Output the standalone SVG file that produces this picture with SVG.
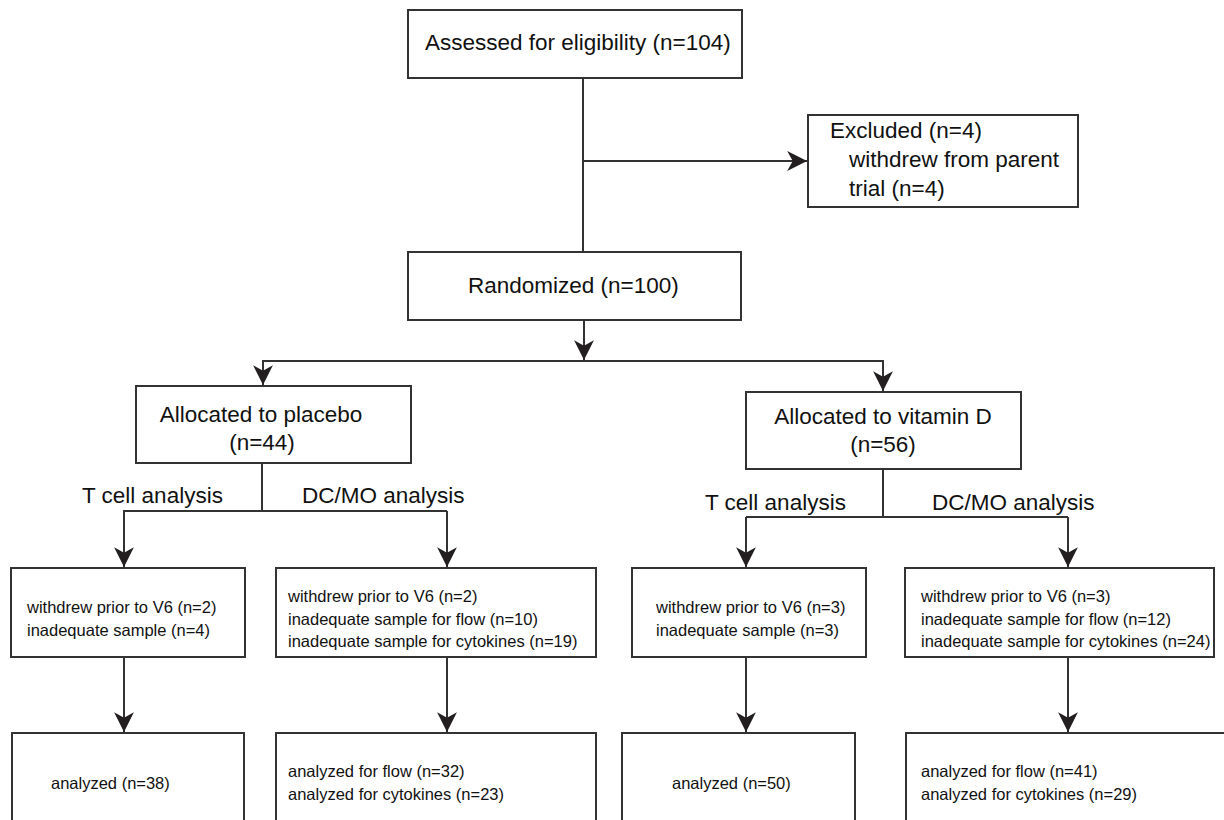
<svg xmlns="http://www.w3.org/2000/svg" width="1224" height="820" viewBox="0 0 1224 820">
<style>
.box{fill:#fff;stroke:#333;stroke-width:2}
.ln{fill:none;stroke:#333;stroke-width:2}
.big{font-family:"Liberation Sans",Arial,sans-serif;font-size:22.5px;fill:#111}
.sm{font-family:"Liberation Sans",Arial,sans-serif;font-size:16.5px;fill:#111}
.mid{text-anchor:middle}
</style>
<defs>
<marker id="arr" markerUnits="userSpaceOnUse" markerWidth="22" markerHeight="22" viewBox="-19 -10 20 20" refX="0" refY="0" orient="auto">
<path d="M0,0 L-18,-9 L-13,0 L-18,9 Z" fill="#231f20"/>
</marker>
</defs>
<rect width="1224" height="820" fill="#fff"/>
<g id="connectors">
<line class="ln" x1="583" y1="78" x2="583" y2="252"/>
<line class="ln" x1="583" y1="161" x2="807" y2="161" marker-end="url(#arr)"/>
<line class="ln" x1="584" y1="320" x2="584" y2="360" marker-end="url(#arr)"/>
<line class="ln" x1="262" y1="361" x2="884" y2="361"/>
<line class="ln" x1="263" y1="361" x2="263" y2="385" marker-end="url(#arr)"/>
<line class="ln" x1="883" y1="361" x2="883" y2="391" marker-end="url(#arr)"/>
<line class="ln" x1="262" y1="463" x2="262" y2="511"/>
<line class="ln" x1="123" y1="511" x2="447" y2="511"/>
<line class="ln" x1="124" y1="511" x2="124" y2="567" marker-end="url(#arr)"/>
<line class="ln" x1="447" y1="511" x2="447" y2="567" marker-end="url(#arr)"/>
<line class="ln" x1="883" y1="469" x2="883" y2="517"/>
<line class="ln" x1="746" y1="517" x2="1068" y2="517"/>
<line class="ln" x1="746" y1="517" x2="746" y2="567" marker-end="url(#arr)"/>
<line class="ln" x1="1068" y1="517" x2="1068" y2="567" marker-end="url(#arr)"/>
<line class="ln" x1="124" y1="657" x2="124" y2="732" marker-end="url(#arr)"/>
<line class="ln" x1="447" y1="657" x2="447" y2="732" marker-end="url(#arr)"/>
<line class="ln" x1="746" y1="657" x2="746" y2="732" marker-end="url(#arr)"/>
<line class="ln" x1="1068" y1="657" x2="1068" y2="732" marker-end="url(#arr)"/>
</g>
<g id="assessed">
<rect class="box" x="408" y="10" width="334" height="68"/>
<text class="big" x="425" y="50">Assessed for eligibility (n=104)</text>
</g>
<g id="excluded">
<rect class="box" x="808" y="115" width="270" height="92"/>
<text class="big" x="830" y="138">Excluded (n=4)</text>
<text class="big" x="849" y="167">withdrew from parent</text>
<text class="big" x="849" y="196">trial (n=4)</text>
</g>
<g id="randomized">
<rect class="box" x="408" y="252" width="333" height="68"/>
<text class="big" x="468" y="293">Randomized (n=100)</text>
</g>
<g id="placebo">
<rect class="box" x="136" y="386" width="275" height="77"/>
<text class="big mid" x="261" y="422">Allocated to placebo</text>
<text class="big mid" x="262" y="450">(n=44)</text>
</g>
<g id="vitamin">
<rect class="box" x="746" y="392" width="275" height="77"/>
<text class="big mid" x="883" y="424">Allocated to vitamin D</text>
<text class="big mid" x="883" y="452">(n=56)</text>
</g>
<g id="labels">
<text class="big" x="82" y="503">T cell analysis</text>
<text class="big" x="302" y="503">DC/MO analysis</text>
<text class="big" x="705" y="510">T cell analysis</text>
<text class="big" x="932" y="510">DC/MO analysis</text>
</g>
<g id="placebo-t-withdrawn">
<rect class="box" x="11" y="568" width="234" height="89"/>
<text class="sm" x="27" y="613">withdrew prior to V6 (n=2)</text>
<text class="sm" x="27" y="636">inadequate sample (n=4)</text>
</g>
<g id="placebo-dc-withdrawn">
<rect class="box" x="276" y="568" width="320" height="89"/>
<text class="sm" x="288" y="602">withdrew prior to V6 (n=2)</text>
<text class="sm" x="288" y="625">inadequate sample for flow (n=10)</text>
<text class="sm" x="288" y="647">inadequate sample for cytokines (n=19)</text>
</g>
<g id="vitd-t-withdrawn">
<rect class="box" x="632" y="568" width="234" height="89"/>
<text class="sm" x="656" y="613">withdrew prior to V6 (n=3)</text>
<text class="sm" x="656" y="636">inadequate sample (n=3)</text>
</g>
<g id="vitd-dc-withdrawn">
<rect class="box" x="905" y="568" width="309" height="89"/>
<text class="sm" x="921" y="602">withdrew prior to V6 (n=3)</text>
<text class="sm" x="921" y="625">inadequate sample for flow (n=12)</text>
<text class="sm" x="921" y="647">inadequate sample for cytokines (n=24)</text>
</g>
<g id="placebo-t-analyzed">
<rect class="box" x="12" y="733" width="232" height="120"/>
<text class="sm" x="51" y="789">analyzed (n=38)</text>
</g>
<g id="placebo-dc-analyzed">
<rect class="box" x="276" y="733" width="320" height="120"/>
<text class="sm" x="288" y="777">analyzed for flow (n=32)</text>
<text class="sm" x="288" y="800">analyzed for cytokines (n=23)</text>
</g>
<g id="vitd-t-analyzed">
<rect class="box" x="622" y="733" width="233" height="120"/>
<text class="sm" x="672" y="789">analyzed (n=50)</text>
</g>
<g id="vitd-dc-analyzed">
<rect class="box" x="906" y="733" width="330" height="120"/>
<text class="sm" x="921" y="777">analyzed for flow (n=41)</text>
<text class="sm" x="921" y="800">analyzed for cytokines (n=29)</text>
</g>
</svg>
